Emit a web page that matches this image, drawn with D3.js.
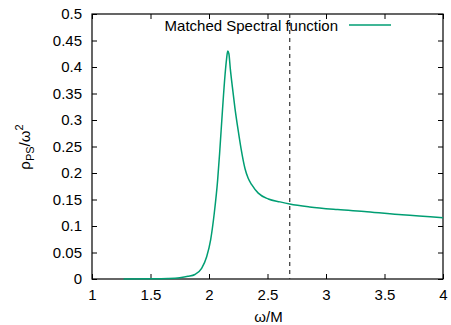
<!DOCTYPE html>
<html>
<head>
<meta charset="utf-8">
<script src="https://cdn.jsdelivr.net/npm/d3@7"></script>
<style>
  body { margin: 0; background: #fff; }
  text { font-family: "Liberation Sans", Arial, sans-serif; }
</style>
</head>
<body>
<div id="chart"></div>
<script>
// omega/M values and rho_PS/omega^2 values
const omega = [1.27, 1.5, 1.65, 1.75, 1.82, 1.88, 1.937, 1.98, 2.014, 2.045,
  2.074, 2.09, 2.115, 2.137, 2.15, 2.16, 2.17, 2.182, 2.2, 2.222,
  2.251, 2.274, 2.308, 2.335, 2.365, 2.421, 2.507, 2.607, 2.69, 2.86,
  3.1, 3.35, 3.65, 4.0];
const rho = [0, 0.0003, 0.001, 0.0025, 0.005, 0.0085, 0.02, 0.042, 0.074, 0.124,
  0.187, 0.235, 0.318, 0.385, 0.415, 0.43, 0.425, 0.397, 0.362, 0.322,
  0.278, 0.246, 0.208, 0.19, 0.178, 0.162, 0.151, 0.1455, 0.1415, 0.136,
  0.131, 0.127, 0.121, 0.1157];
const thresholdX = 2.69;
const xTicks = [1, 1.5, 2, 2.5, 3, 3.5, 4];
const yTicks = [0, 0.05, 0.1, 0.15, 0.2, 0.25, 0.3, 0.35, 0.4, 0.45, 0.5];
const legendLabel = "Matched Spectral function";

const W = 451, H = 325;
const margin = { top: 14, right: 8, bottom: 46, left: 92 };
const width = W - margin.left - margin.right;
const height = H - margin.top - margin.bottom;

const svg = d3.select("#chart").append("svg")
  .attr("width", W).attr("height", H);
const g = svg.append("g")
  .attr("transform", "translate(" + margin.left + "," + margin.top + ")");

const x = d3.scaleLinear().domain([1, 4]).range([0, width]);
const y = d3.scaleLinear().domain([0, 0.5]).range([height, 0]);

// axes with inward ticks, mirrored on top/right
const fmt = d3.format("");
g.append("g").attr("transform", "translate(0," + height + ")")
  .call(d3.axisBottom(x).tickValues(xTicks).tickFormat(fmt).tickSizeInner(-5).tickSizeOuter(0).tickPadding(10));
g.append("g")
  .call(d3.axisTop(x).tickValues(xTicks).tickFormat("").tickSizeInner(-5).tickSizeOuter(0));
g.append("g")
  .call(d3.axisLeft(y).tickValues(yTicks).tickFormat(fmt).tickSizeInner(-5).tickSizeOuter(0).tickPadding(10));
g.append("g").attr("transform", "translate(" + width + ",0)")
  .call(d3.axisRight(y).tickValues(yTicks).tickFormat("").tickSizeInner(-5).tickSizeOuter(0));

g.selectAll(".domain").remove();
g.selectAll(".tick line").attr("stroke", "#000");
g.selectAll(".tick text").attr("font-size", 15).attr("fill", "#000");

g.append("rect")
  .attr("width", width).attr("height", height)
  .attr("fill", "none").attr("stroke", "#000").attr("stroke-width", 1.2);

// dashed threshold line
g.append("line")
  .attr("x1", x(thresholdX)).attr("x2", x(thresholdX))
  .attr("y1", 0).attr("y2", height)
  .attr("stroke", "#333").attr("stroke-width", 1.2)
  .attr("stroke-dasharray", "4,4");

// curve
const pts = omega.map((d, i) => [d, rho[i]]);
const line = d3.line()
  .x(d => x(d[0])).y(d => y(d[1]))
  .curve(d3.curveMonotoneX);
g.append("path").datum(pts)
  .attr("d", line)
  .attr("fill", "none").attr("stroke", "#009e73").attr("stroke-width", 1.5);

// legend
svg.append("text")
  .attr("x", 338).attr("y", 31)
  .attr("text-anchor", "end").attr("font-size", 15)
  .text(legendLabel);
svg.append("line")
  .attr("x1", 349).attr("x2", 391).attr("y1", 25).attr("y2", 25)
  .attr("stroke", "#009e73").attr("stroke-width", 1.5);

// axis labels
svg.append("text")
  .attr("x", margin.left + width / 2 + 1).attr("y", 322)
  .attr("text-anchor", "middle").attr("font-size", 15)
  .text("ω/M");

const yl = svg.append("text")
  .attr("transform", "translate(30,147) rotate(-90)")
  .attr("text-anchor", "middle").attr("font-size", 15);
yl.append("tspan").text("ρ");
yl.append("tspan").attr("font-size", 11).attr("dy", 4).text("PS");
yl.append("tspan").attr("dy", -4).text("/ω");
yl.append("tspan").attr("font-size", 11).attr("dy", -7).text("2");
</script>
</body>
</html>
